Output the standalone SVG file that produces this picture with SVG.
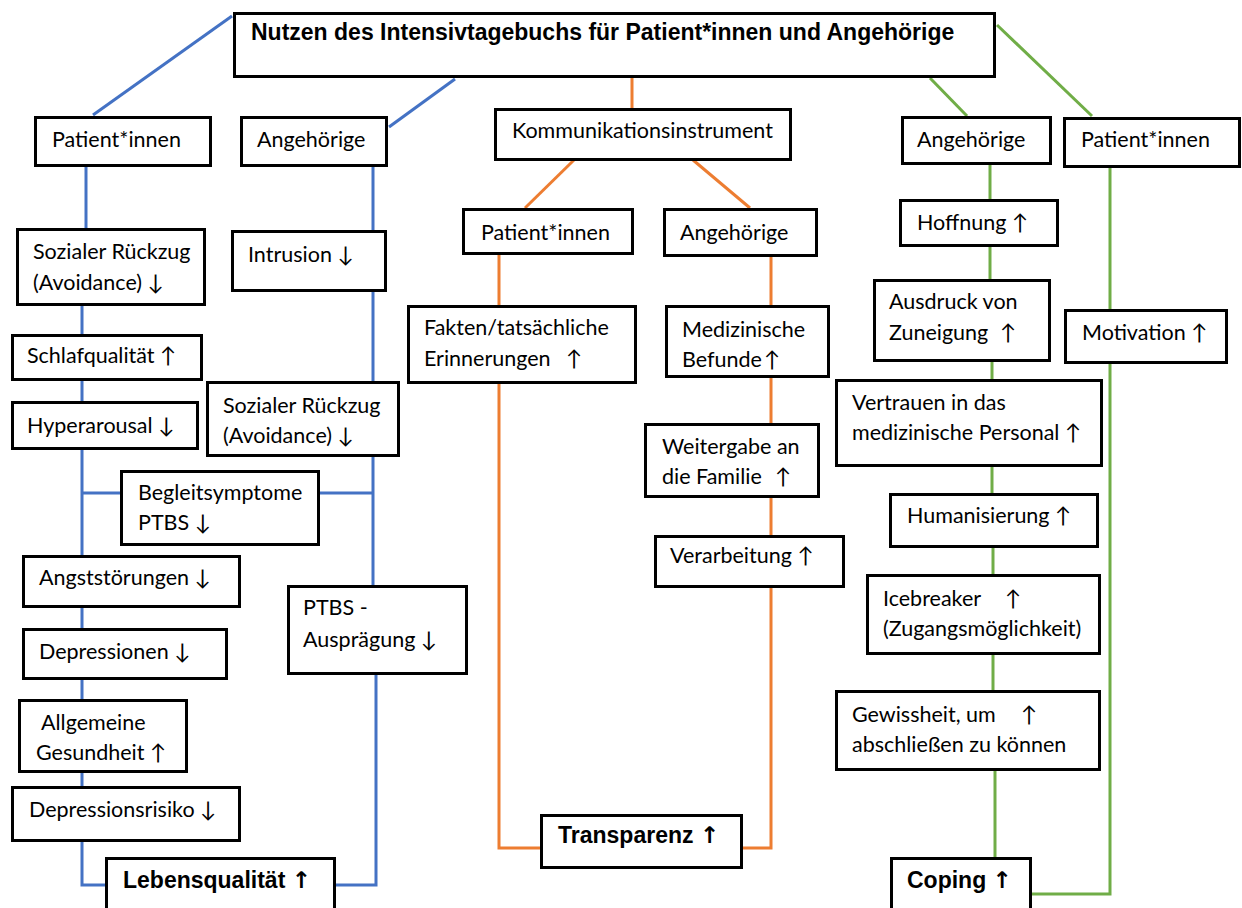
<svg xmlns="http://www.w3.org/2000/svg" width="1242" height="908" viewBox="0 0 1242 908">
<style>
.box{fill:#fff;stroke:#000;stroke-width:3}
.t{font-family:Lato,"Open Sans","DejaVu Sans",sans-serif;font-size:21.5px;fill:#000}
.b{font-family:"Liberation Sans",Arial,sans-serif;font-weight:bold;font-size:23px;fill:#000}
.ar{font-family:"DejaVu Sans",sans-serif;font-weight:bold}
.bl{fill:none;stroke:#4472C4;stroke-width:3}
.or{fill:none;stroke:#ED7D31;stroke-width:3}
.gr{fill:none;stroke:#70AD47;stroke-width:3}
</style>
<rect width="1242" height="908" fill="#fff"/>
<g id="connectors">
<path class="bl" d="M232,16 L93,115"/>
<path class="bl" d="M389,127 L455,79"/>
<path class="bl" d="M86,167 V228"/>
<path class="bl" d="M82,306 V885 H106"/>
<path class="bl" d="M82,493 H120"/>
<path class="bl" d="M320,493 H373"/>
<path class="bl" d="M373,167 V585"/>
<path class="bl" d="M376,675 V885 H335"/>
<path class="or" d="M632,78 V108"/>
<path class="or" d="M574,160 L525,208"/>
<path class="or" d="M693,160 L750,208"/>
<path class="or" d="M499,255 V848 H540"/>
<path class="or" d="M771,257 V848 H743"/>
<path class="gr" d="M997,25 L1092,116"/>
<path class="gr" d="M930,78 L967,116"/>
<path class="gr" d="M990,165 V279"/>
<path class="gr" d="M992,362 V493"/>
<path class="gr" d="M993,548 V690"/>
<path class="gr" d="M995,771 V857"/>
<path class="gr" d="M1110,168 V894 H1031"/>
</g>
<g id="title"><rect class="box" x="234.5" y="13.5" width="760" height="63"/><text class="b" x="251" y="40">Nutzen des Intensivtagebuchs für Patient*innen und Angehörige</text></g>
<g id="l_pat"><rect class="box" x="35.5" y="117.5" width="175" height="48"/><text class="t" x="52" y="147">Patient*innen</text></g>
<g id="l_ang"><rect class="box" x="241.5" y="117.5" width="145" height="48"/><text class="t" x="257" y="147">Angehörige</text></g>
<g id="l_soz1"><rect class="box" x="17.5" y="229.5" width="187" height="75"/><text class="t" x="33" y="259">Sozialer Rückzug</text><text class="t" x="33" y="290">(Avoidance) ↓</text></g>
<g id="l_intr"><rect class="box" x="232.5" y="231.5" width="153" height="59"/><text class="t" x="248" y="262">Intrusion ↓</text></g>
<g id="l_schlaf"><rect class="box" x="12.5" y="335.5" width="189" height="44"/><text class="t" x="27" y="363">Schlafqualität ↑</text></g>
<g id="l_hyper"><rect class="box" x="12.5" y="402.5" width="185" height="46"/><text class="t" x="27" y="433">Hyperarousal ↓</text></g>
<g id="l_soz2"><rect class="box" x="207.5" y="382.5" width="191" height="73"/><text class="t" x="223" y="413">Sozialer Rückzug</text><text class="t" x="223" y="443">(Avoidance) ↓</text></g>
<g id="l_begl"><rect class="box" x="121.5" y="471.5" width="197" height="73"/><text class="t" x="138" y="500">Begleitsymptome</text><text class="t" x="138" y="530">PTBS ↓</text></g>
<g id="l_angst"><rect class="box" x="23.5" y="556.5" width="216" height="50"/><text class="t" x="39" y="585">Angststörungen ↓</text></g>
<g id="l_ptbs"><rect class="box" x="288.5" y="586.5" width="178" height="87"/><text class="t" x="303" y="615">PTBS -</text><text class="t" x="303" y="647">Ausprägung ↓</text></g>
<g id="l_depr"><rect class="box" x="23.5" y="629.5" width="203" height="49"/><text class="t" x="39" y="659">Depressionen ↓</text></g>
<g id="l_allg"><rect class="box" x="19.5" y="700.5" width="167" height="71"/><text class="t" x="41" y="730">Allgemeine</text><text class="t" x="36" y="760">Gesundheit ↑</text></g>
<g id="l_drisk"><rect class="box" x="12.5" y="787.5" width="227" height="53"/><text class="t" x="29" y="817">Depressionsrisiko ↓</text></g>
<g id="l_leben"><rect class="box" x="106.5" y="858.5" width="228" height="60"/><text class="b" x="123" y="888">Lebensqualität <tspan class="ar">↑</tspan></text></g>
<g id="c_komm"><rect class="box" x="495.5" y="109.5" width="295" height="50"/><text class="t" x="512" y="138">Kommunikationsinstrument</text></g>
<g id="c_pat"><rect class="box" x="463.5" y="209.5" width="169" height="44"/><text class="t" x="481" y="240">Patient*innen</text></g>
<g id="c_ang"><rect class="box" x="664.5" y="209.5" width="152" height="46"/><text class="t" x="680" y="240">Angehörige</text></g>
<g id="c_fakten"><rect class="box" x="408.5" y="306.5" width="227" height="76"/><text class="t" x="424" y="335">Fakten/tatsächliche</text><text class="t" x="424" y="366">Erinnerungen <tspan x="566">↑</tspan></text></g>
<g id="c_med"><rect class="box" x="666.5" y="306.5" width="162" height="70"/><text class="t" x="682" y="337">Medizinische</text><text class="t" x="682" y="367">Befunde<tspan x="764">↑</tspan></text></g>
<g id="c_weiter"><rect class="box" x="645.5" y="424.5" width="173" height="72"/><text class="t" x="662" y="454">Weitergabe an</text><text class="t" x="662" y="484">die Familie <tspan x="775">↑</tspan></text></g>
<g id="c_verarb"><rect class="box" x="655.5" y="536.5" width="188" height="50"/><text class="t" x="670" y="563">Verarbeitung ↑</text></g>
<g id="c_transp"><rect class="box" x="541.5" y="815.5" width="200" height="52"/><text class="b" x="558" y="843">Transparenz <tspan class="ar">↑</tspan></text></g>
<g id="r_ang"><rect class="box" x="902.5" y="117.5" width="148" height="46"/><text class="t" x="917" y="147">Angehörige</text></g>
<g id="r_pat"><rect class="box" x="1064.5" y="118.5" width="175" height="48"/><text class="t" x="1081" y="147">Patient*innen</text></g>
<g id="r_hoff"><rect class="box" x="900.5" y="200.5" width="157" height="45"/><text class="t" x="917" y="230">Hoffnung ↑</text></g>
<g id="r_ausdr"><rect class="box" x="874.5" y="280.5" width="175" height="80"/><text class="t" x="889" y="309">Ausdruck von</text><text class="t" x="889" y="340">Zuneigung <tspan x="1000">↑</tspan></text></g>
<g id="r_motiv"><rect class="box" x="1065.5" y="310.5" width="161" height="52"/><text class="t" x="1082" y="340">Motivation ↑</text></g>
<g id="r_vertr"><rect class="box" x="836.5" y="380.5" width="265" height="85"/><text class="t" x="852" y="410">Vertrauen in das</text><text class="t" x="852" y="440">medizinische Personal ↑</text></g>
<g id="r_human"><rect class="box" x="890.5" y="494.5" width="207" height="52"/><text class="t" x="907" y="523">Humanisierung ↑</text></g>
<g id="r_ice"><rect class="box" x="867.5" y="575.5" width="232" height="78"/><text class="t" x="883" y="606">Icebreaker <tspan x="1005">↑</tspan></text><text class="t" x="883" y="636">(Zugangsmöglichkeit)</text></g>
<g id="r_gew"><rect class="box" x="836.5" y="691.5" width="263" height="78"/><text class="t" x="852" y="722">Gewissheit, um <tspan x="1021">↑</tspan></text><text class="t" x="852" y="752">abschließen zu können</text></g>
<g id="r_coping"><rect class="box" x="891.5" y="858.5" width="139" height="60"/><text class="b" x="907" y="888">Coping <tspan class="ar">↑</tspan></text></g>
</svg>
